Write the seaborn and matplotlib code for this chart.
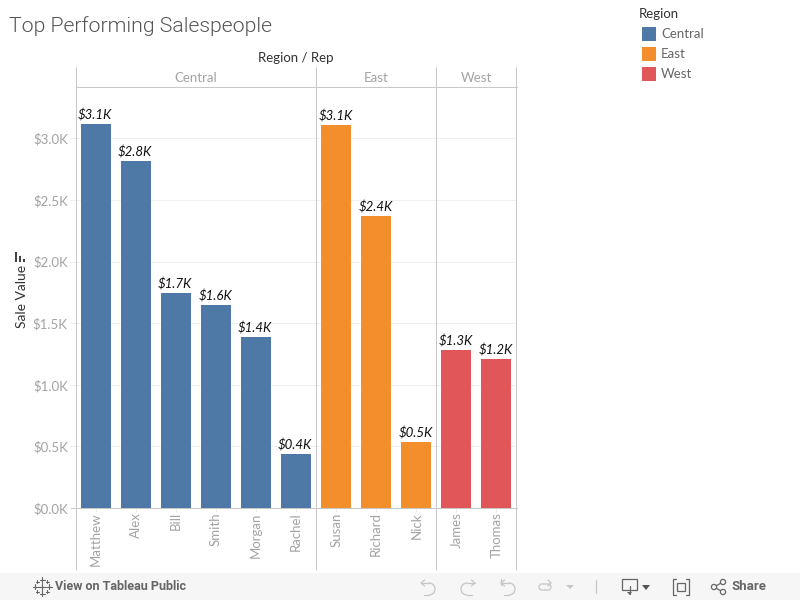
from __future__ import annotations

import matplotlib
matplotlib.use("Agg")
import matplotlib.pyplot as plt
from matplotlib.patches import Arc, Circle, FancyBboxPatch, Rectangle
import pandas as pd
import seaborn as sns

reps = ["Matthew", "Alex", "Bill", "Smith", "Morgan", "Rachel", "Susan", "Richard", "Nick", "James", "Thomas"]
regions = ["Central"] * 6 + ["East"] * 3 + ["West"] * 2
sales = [3117, 2817, 1745, 1648, 1388, 438, 3109, 2370, 536, 1282, 1209]
bar_labels = ["$3.1K", "$2.8K", "$1.7K", "$1.6K", "$1.4K", "$0.4K", "$3.1K", "$2.4K", "$0.5K", "$1.3K", "$1.2K"]
region_names = ["Central", "East", "West"]
region_colors = ["#4e79a7", "#f28e2b", "#e15759"]
y_ticks = [0, 500, 1000, 1500, 2000, 2500, 3000]
y_tick_labels = ["$0.0K", "$0.5K", "$1.0K", "$1.5K", "$2.0K", "$2.5K", "$3.0K"]

LINE = "#c8c8c8"
MUTED = "#a3a3a3"
DARK = "#333333"
ICON = "#c6c6c6"
TOOL = "#666666"
LW = 0.72

sns.set_theme(style="white")
plt.rcParams["font.family"] = ["Lato", "DejaVu Sans"]

df = pd.DataFrame({"rep": reps, "region": regions, "sales": sales})

fig = plt.figure(figsize=(8, 6), dpi=100)

# page overlay in pixel coordinates, for the headers and toolbar
page = fig.add_axes([0, 0, 1, 1], zorder=3)
page.set_xlim(0, 800)
page.set_ylim(600, 0)
page.axis("off")
page.patch.set_alpha(0)

ax = fig.add_axes([75.5 / 800, 92 / 600, 441 / 800, 421 / 600], zorder=2)
ax.patch.set_alpha(0)
sns.barplot(
    data=df, x="rep", y="sales", hue="region", order=reps, hue_order=region_names,
    palette=region_colors, dodge=False, width=0.75, saturation=1, legend=False,
    linewidth=0, ax=ax,
)
ax.set_xlim(-0.5, 10.5)
ax.set_ylim(0, 3417)
ax.set_yticks(y_ticks)
ax.set_yticklabels(y_tick_labels, color=MUTED, fontsize=9.5)
ax.set_xticks(range(len(reps)))
ax.set_xticklabels(reps, rotation=90, color=MUTED, fontsize=9.5, va="top")
ax.set_xlabel("")
ax.set_ylabel("")
ax.tick_params(axis="y", length=4, width=LW, color="#eeeeee", pad=1.5, left=True)
ax.tick_params(axis="x", length=3, width=LW, color="#eeeeee", pad=0, bottom=True)
ax.grid(axis="y", color="#f0f0f0", linewidth=LW)
ax.set_axisbelow(True)
for side in ["top", "right", "left"]:
    ax.spines[side].set_visible(False)
ax.spines["bottom"].set_color(LINE)
ax.spines["bottom"].set_linewidth(LW)

bars = sorted([p for p in ax.patches if p.get_height() > 0], key=lambda p: p.get_x())
for bar, label in zip(bars, bar_labels):
    ax.annotate(
        label, (bar.get_x() + bar.get_width() / 2, bar.get_height()), xytext=(-0.5, 2),
        textcoords="offset points", ha="center", va="bottom",
        fontsize=9.5, style="italic", color="#111111",
    )

# facet frame
for x in [76, 316, 436, 516]:
    page.plot([x, x], [67, 570], color=LINE, lw=LW, solid_capstyle="butt")
page.plot([76, 517], [87, 87], color=LINE, lw=LW)
page.plot([71, 76], [508, 508], color=LINE, lw=LW)
for name, x in zip(region_names, [196, 376, 476]):
    page.text(x, 78, name, ha="center", va="center", color=MUTED, fontsize=9.5)

page.text(9, 26, "Top Performing Salespeople", ha="left", va="center", color="#555555",
          fontsize=15.3, fontweight=300, family=["Roboto", "DejaVu Sans"])
page.text(296, 58, "Region / Rep", ha="center", va="center", color=DARK, fontsize=9.5)
page.text(22, 296.5, "Sale Value", rotation=90, ha="center", va="center", color=DARK, fontsize=10)

# sort icon beside the axis title
for x, top in [(15, 252), (19, 256), (23, 259)]:
    page.add_patch(Rectangle((x, top), 2.4, 262 - top, color="#444444", lw=0))

# legend
page.text(639, 14, "Region", ha="left", va="center", color=DARK, fontsize=9.5)
for name, color, y in zip(region_names, region_colors, [33.5, 53.5, 73.5]):
    page.add_patch(Rectangle((642, y - 7), 14, 14, color=color, lw=0))
    page.text(661, y, name, ha="left", va="center", color="#666666", fontsize=9.5)

# toolbar
page.add_patch(Rectangle((0, 573), 800, 27, color="#f6f6f6", lw=0))
page.text(55, 586.5, "View on Tableau Public", ha="left", va="center", color=TOOL,
          fontsize=9, fontweight="bold", family=["Roboto", "DejaVu Sans"])
page.text(732, 586.5, "Share", ha="left", va="center", color=TOOL,
          fontsize=9.5, fontweight="bold", family=["Roboto", "DejaVu Sans"])
for x, y, half in [(42, 586.5, 4), (35, 586.5, 2.5), (49, 586.5, 2.5), (42, 579.5, 2.5), (42, 593.5, 2.5),
                   (37, 581.5, 1.5), (47, 581.5, 1.5), (37, 591.5, 1.5), (47, 591.5, 1.5)]:
    page.plot([x - half, x + half], [y, y], color=TOOL, lw=0.8)
    page.plot([x, x], [y - half, y + half], color=TOOL, lw=0.8)

# undo, redo, revert and refresh icons
for x0 in [420, 500]:
    page.plot([x0 + 1, x0 + 9], [583, 583], color=ICON, lw=0.9)
    page.add_patch(Arc((x0 + 9, 589), 12, 12, theta1=-90, theta2=90, color=ICON, lw=0.9))
    page.plot([x0 + 9, x0 + 4], [595, 595], color=ICON, lw=0.9)
    page.plot([x0 + 4.5, x0 + 1, x0 + 4.5], [580, 583, 586], color=ICON, lw=0.9)
page.plot([501, 501], [579, 585], color=ICON, lw=0.9)
page.plot([475, 467], [583, 583], color=ICON, lw=0.9)
page.add_patch(Arc((467, 589), 12, 12, theta1=90, theta2=270, color=ICON, lw=0.9))
page.plot([467, 472], [595, 595], color=ICON, lw=0.9)
page.plot([471.5, 475, 471.5], [580, 583, 586], color=ICON, lw=0.9)
page.add_patch(FancyBboxPatch((539, 584), 12, 6, boxstyle="round,pad=0,rounding_size=3",
                              fill=False, ec=ICON, lw=0.9))
page.plot([548, 551, 548], [580, 583, 586], color=ICON, lw=0.9)
page.fill([566, 574, 570], [585, 585, 589], color=ICON, lw=0)
page.plot([595.5, 595.5], [580, 593], color=ICON, lw=0.9)

# download, fullscreen and share icons
page.add_patch(Rectangle((622, 579), 15, 11, fill=False, ec=TOOL, lw=0.9))
page.plot([629.5, 629.5], [586, 594], color=TOOL, lw=0.9)
page.fill([627, 632, 629.5], [592, 592, 595], color=TOOL, lw=0)
page.fill([642, 650, 646], [585, 585, 590], color="#555555", lw=0)
page.add_patch(Rectangle((677, 583), 8, 8, fill=False, ec=TOOL, lw=0.9))
for xa, xb in [(673, 676), (689, 686)]:
    page.plot([xb, xa, xa, xb], [579, 579, 595, 595], color=TOOL, lw=0.9)
page.plot([723, 714, 723], [582, 587, 592], color=TOOL, lw=0.9)
for x, y in [(714, 587), (723, 582), (723, 592)]:
    page.add_patch(Circle((x, y), 2.6, fc="#f6f6f6", ec=TOOL, lw=0.9, zorder=4))

page.set_xlim(0, 800)
page.set_ylim(600, 0)

fig.savefig("out.png", dpi=100)
plt.close(fig)
